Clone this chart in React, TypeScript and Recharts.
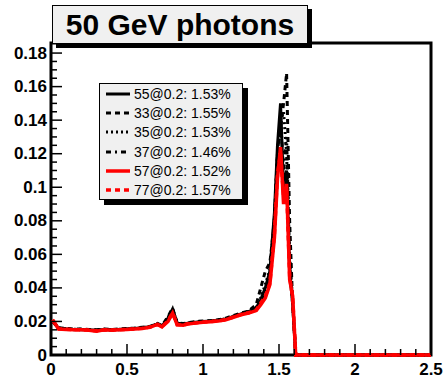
import { Line, LineChart, ReferenceArea, XAxis, YAxis } from "recharts";

// bin positions (GeV response / 50 GeV), shared by all curves
const xs = [
  0.01, 0.05, 0.1, 0.15, 0.2, 0.25, 0.3, 0.35, 0.4, 0.45, 0.5, 0.55, 0.6, 0.65, 0.7, 0.73, 0.77, 0.8, 0.83, 0.87,
  0.9, 0.95, 1.0, 1.05, 1.1, 1.15, 1.2, 1.25, 1.3, 1.35, 1.38, 1.41, 1.44, 1.47, 1.49, 1.51, 1.53, 1.55, 1.57, 1.59,
  1.61, 1.63, 2.5,
];

const s55 = [
  0.02, 0.016, 0.0155, 0.0152, 0.0152, 0.015, 0.0148, 0.0152, 0.015, 0.0152, 0.0155, 0.0158, 0.0162, 0.0168, 0.0185, 0.0172, 0.022, 0.0275, 0.019, 0.0185,
  0.019, 0.0195, 0.02, 0.0202, 0.0208, 0.0215, 0.023, 0.0245, 0.0258, 0.028, 0.033, 0.04, 0.05, 0.085, 0.125, 0.15, 0.1, 0.11, 0.05, 0.03,
  0, 0, 0,
];
const s33 = [
  0.02, 0.0162, 0.0158, 0.0155, 0.0155, 0.0152, 0.015, 0.0155, 0.0152, 0.0155, 0.0158, 0.016, 0.0165, 0.017, 0.0188, 0.0175, 0.023, 0.028, 0.0192, 0.0188,
  0.0192, 0.02, 0.0202, 0.0205, 0.021, 0.022, 0.0235, 0.025, 0.0262, 0.03, 0.04, 0.05, 0.055, 0.08, 0.12, 0.135, 0.15, 0.168, 0.08, 0.03,
  0, 0, 0,
];
const s35 = [
  0.0205, 0.016, 0.0156, 0.0153, 0.0153, 0.0151, 0.0149, 0.0153, 0.0151, 0.0153, 0.0156, 0.0159, 0.0163, 0.0168, 0.0186, 0.0172, 0.0222, 0.0272, 0.0188, 0.0184,
  0.019, 0.0196, 0.0199, 0.0203, 0.0207, 0.0216, 0.0232, 0.0246, 0.026, 0.0285, 0.034, 0.042, 0.051, 0.082, 0.12, 0.14, 0.145, 0.12, 0.06, 0.032,
  0, 0, 0,
];
const s37 = [
  0.0202, 0.0158, 0.0154, 0.0151, 0.0151, 0.0149, 0.0146, 0.0151, 0.0149, 0.0151, 0.0154, 0.0157, 0.016, 0.0167, 0.0184, 0.017, 0.0215, 0.0268, 0.0186, 0.0182,
  0.0188, 0.0193, 0.0197, 0.02, 0.0205, 0.0213, 0.0228, 0.0242, 0.0255, 0.0275, 0.032, 0.038, 0.047, 0.08, 0.118, 0.142, 0.11, 0.13, 0.055, 0.03,
  0, 0, 0,
];
const s57 = [
  0.021, 0.0155, 0.0152, 0.015, 0.015, 0.0148, 0.0142, 0.015, 0.0148, 0.015, 0.0152, 0.0155, 0.0158, 0.0165, 0.0182, 0.0168, 0.02, 0.025, 0.018, 0.0178,
  0.0185, 0.019, 0.0195, 0.0198, 0.0202, 0.021, 0.0225, 0.024, 0.025, 0.0265, 0.03, 0.034, 0.042, 0.07, 0.105, 0.124, 0.09, 0.102, 0.045, 0.035,
  0, 0, 0,
];
const s77 = [
  0.0208, 0.0156, 0.0153, 0.0151, 0.015, 0.0149, 0.0144, 0.015, 0.0149, 0.0151, 0.0153, 0.0156, 0.0159, 0.0166, 0.0182, 0.0169, 0.0205, 0.0252, 0.0182, 0.018,
  0.0186, 0.0191, 0.0196, 0.0199, 0.0203, 0.0211, 0.0226, 0.0241, 0.0252, 0.0268, 0.031, 0.035, 0.043, 0.072, 0.108, 0.12, 0.095, 0.1, 0.047, 0.034,
  0, 0, 0,
];

const legendLabels = [
  "55@0.2: 1.53%",
  "33@0.2: 1.55%",
  "35@0.2: 1.53%",
  "37@0.2: 1.46%",
  "57@0.2: 1.52%",
  "77@0.2: 1.57%",
];

const xTicks = [0, 0.1, 0.2, 0.3, 0.4, 0.5, 0.6, 0.7, 0.8, 0.9, 1, 1.1, 1.2, 1.3, 1.4, 1.5, 1.6, 1.7, 1.8, 1.9, 2, 2.1, 2.2, 2.3, 2.4, 2.5];
const yTicks = Array.from({ length: 37 }, (_, i) => Math.round(i * 5) / 1000);

const data = xs.map((x, i) => ({ x, s55: s55[i], s33: s33[i], s35: s35[i], s37: s37[i], s57: s57[i], s77: s77[i] }));

const series = [
  { key: "s55", color: "#000", dash: undefined, width: 3 },
  { key: "s33", color: "#000", dash: "5 4", width: 3 },
  { key: "s35", color: "#000", dash: "2 3", width: 3 },
  { key: "s37", color: "#000", dash: "5 4 2 4", width: 3 },
  { key: "s57", color: "#ff0000", dash: undefined, width: 3.5 },
  { key: "s77", color: "#ff0000", dash: "5 4", width: 3.5 },
];

const font = "'Liberation Sans', Arial, Helvetica, sans-serif";
const isMult = (v: number, step: number) => Math.abs(v / step - Math.round(v / step)) < 1e-6;

// plot frame: x 51..431, y 43..355
const PLOT_BOTTOM = 355;
const PLOT_LEFT = 51;

function xTick(props: any) {
  const { x, payload } = props;
  const y = PLOT_BOTTOM;
  const major = isMult(payload.value, 0.5);
  return (
    <g key={"xt" + payload.value}>
      <line x1={x} x2={x} y1={y} y2={y - (major ? 11 : 6)} stroke="#000" strokeWidth={1.5} />
      {major && (
        <text x={x} y={y + 14} textAnchor="middle" dominantBaseline="central" fontFamily={font} fontWeight="bold" fontSize={17} fill="#000">
          {String(payload.value)}
        </text>
      )}
    </g>
  );
}

function yTick(props: any) {
  const { y, payload } = props;
  const x = PLOT_LEFT;
  const major = isMult(payload.value, 0.02);
  return (
    <g key={"yt" + payload.value}>
      <line x1={x} x2={x + (major ? 11 : 6)} y1={y} y2={y} stroke="#000" strokeWidth={1.5} />
      {major && (
        <text x={x - 4} y={y} textAnchor="end" dominantBaseline="central" fontFamily={font} fontWeight="bold" fontSize={17} fill="#000">
          {String(payload.value)}
        </text>
      )}
    </g>
  );
}

export default function App() {
  return (
    <div style={{ position: "absolute", left: 0, top: 0, width: 445, height: 377, background: "#fff", fontFamily: font }}>
      <LineChart width={445} height={377} data={data} margin={{ left: 11, right: 14, top: 43, bottom: 2 }}>
        <XAxis dataKey="x" type="number" domain={[0, 2.5]} ticks={xTicks} height={20} axisLine={false} tickLine={false} tick={xTick} interval={0} />
        <YAxis type="number" domain={[0, 0.186]} ticks={yTicks} width={40} axisLine={false} tickLine={false} tick={yTick} interval={0} />
        <ReferenceArea x1={0} x2={2.5} y1={0} y2={0.186} fill="none" stroke="#000" strokeWidth={3} />
        {series.map((s) => (
          <Line key={s.key} type="linear" dataKey={s.key} stroke={s.color} strokeWidth={s.width} strokeDasharray={s.dash} dot={false} isAnimationActive={false} />
        ))}
      </LineChart>

      {/* title box */}
      <div style={{ position: "absolute", left: 52, top: 5, width: 254, height: 37, background: "#f0f0f0", border: "1px solid #000", boxShadow: "4px 4px 0 #000", display: "flex", alignItems: "center", justifyContent: "center", fontWeight: "bold", fontSize: 30, color: "#000" }}>
        50 GeV photons
      </div>

      {/* legend */}
      <div style={{ position: "absolute", left: 99, top: 83, width: 142, height: 115, background: "#f0f0f0", border: "1px solid #000", boxShadow: "5px 5px 0 #000" }}>
        {legendLabels.map((label, i) => {
          const s = series[i];
          return (
            <div key={label} style={{ position: "absolute", left: 5, top: 1 + i * 19.2, height: 18, display: "flex", alignItems: "center" }}>
              <svg width={26} height={18}>
                <line x1={1} x2={25} y1={9} y2={9} stroke={s.color} strokeWidth={s.width} strokeDasharray={s.dash} />
              </svg>
              <span style={{ marginLeft: 3, fontSize: 14, color: "#000", whiteSpace: "nowrap" }}>{label}</span>
            </div>
          );
        })}
      </div>
    </div>
  );
}
